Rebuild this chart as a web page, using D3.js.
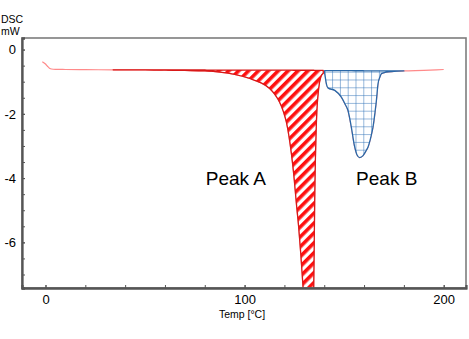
<!DOCTYPE html>
<html>
<head>
<meta charset="utf-8">
<script src="https://cdn.jsdelivr.net/npm/d3@7"></script>
<style>
  html, body { margin: 0; padding: 0; background: #fff; }
  svg { display: block; font-family: "Liberation Sans", Arial, sans-serif; }
</style>
</head>
<body>
<svg id="chart" width="469" height="339"></svg>
<script>
// ---- data ----
const curveTemp = [-1.6, 0, 1, 2, 3, 5, 10, 20, 34, 50, 60, 70, 80, 87.6, 95, 102.6, 108, 112.6, 115, 117.6, 119.5, 121, 122.3, 123.5, 124.8, 126, 127.2, 128.2, 129.4, 130.5, 132, 133.5, 134.7, 135.2, 136.1, 137.2, 138.3, 139.5, 140.2, 141.2, 142, 145.3, 148.6, 150.5, 151.9, 153.6, 155.3, 156.5, 157.8, 159.5, 161, 162, 163.5, 164.5, 165.5, 166.2, 167, 168, 168.7, 171.2, 175, 180, 190, 200];
const curveVal  = [-0.38, -0.45, -0.52, -0.58, -0.605, -0.615, -0.62, -0.625, -0.63, -0.635, -0.64, -0.65, -0.665, -0.70, -0.77, -0.90, -1.03, -1.21, -1.38, -1.64, -1.93, -2.26, -2.70, -3.23, -3.95, -4.78, -5.55, -6.34, -7.42, -8.3, -8.6, -8.3, -7.42, -4.70, -2.20, -1.21, -0.85, -0.74, -0.72, -1.10, -1.20, -1.27, -1.48, -1.70, -1.89, -2.41, -3.03, -3.28, -3.36, -3.30, -3.15, -3.03, -2.70, -2.41, -1.95, -1.58, -1.07, -0.85, -0.75, -0.70, -0.68, -0.665, -0.645, -0.62];
const peakLabels = ["Peak A", "Peak B"];
const peakRanges = [[34, 139.5], [140.2, 180]];
const peakLabelPos = [[80.5, -4.2], [156, -4.2]];
const baseA = [[34, -0.63], [139.5, -0.645]];
const baseB = [[140.2, -0.655], [180, -0.665]];
const xMajorTicks = [0, 100, 200];
const xMinorTicks = d3.range(0, 201, 20);
const yMajorTicks = [0, -2, -4, -6];
const yMinorTicks = d3.range(0, -7.01, -0.5);
const yTitle = ["DSC", "mW"];
const xTitle = "Temp [°C]";

// ---- layout ----
const svg = d3.select("#chart");
const L = 22, R = 466, T = 38, B = 288;
const x = d3.scaleLinear().domain([-11.8, 211.2]).range([L, R]);
const y = d3.scaleLinear().domain([-7.42, 0.36]).range([B, T]);

const pts = curveTemp.map((t, i) => ({ t, v: curveVal[i] }));

const defs = svg.append("defs");
defs.append("clipPath").attr("id", "plotclip")
  .append("rect").attr("x", L).attr("y", T).attr("width", R - L).attr("height", B - T);

// red diagonal stripes
const stripe = defs.append("pattern").attr("id", "stripes")
  .attr("patternUnits", "userSpaceOnUse").attr("width", 7).attr("height", 7)
  .attr("patternTransform", "rotate(45)");
stripe.append("rect").attr("width", 7).attr("height", 7).attr("fill", "#fff");
stripe.append("rect").attr("width", 3.6).attr("height", 7).attr("fill", "#ff1010");

// blue grid
const gs = 7.8;
const grid = defs.append("pattern").attr("id", "grid")
  .attr("patternUnits", "userSpaceOnUse").attr("width", gs).attr("height", gs)
  .attr("x", 324.3).attr("y", 71.7);
grid.append("rect").attr("width", gs).attr("height", gs).attr("fill", "#fff");
grid.append("path").attr("d", `M0,0H${gs}M0,0V${gs}`)
  .attr("stroke", "#2f72b8").attr("stroke-width", 1).attr("fill", "none");

const plot = svg.append("g").attr("clip-path", "url(#plotclip)");

// full curve (pink)
const line = d3.line().x(d => x(d.t)).y(d => y(d.v)).curve(d3.curveMonotoneX);
plot.append("path").datum(pts).attr("d", line)
  .attr("fill", "none").attr("stroke", "#ff8a8a").attr("stroke-width", 1.2);

function baseFn(b) {
  return d3.scaleLinear().domain([b[0][0], b[1][0]]).range([b[0][1], b[1][1]]);
}
const peaks = [
  { range: peakRanges[0], base: baseFn(baseA), fill: "url(#stripes)", stroke: "#d81818" },
  { range: peakRanges[1], base: baseFn(baseB), fill: "url(#grid)", stroke: "#2a68a8" }
];
peaks.forEach(p => {
  const sub = pts.filter(d => d.t >= p.range[0] && d.t <= p.range[1]);
  const area = d3.area().x(d => x(d.t)).y0(d => y(p.base(d.t))).y1(d => y(d.v)).curve(d3.curveMonotoneX);
  plot.append("path").datum(sub).attr("d", area)
    .attr("fill", p.fill).attr("stroke", p.stroke).attr("stroke-width", 1.3)
    .attr("stroke-linejoin", "round");
});

// frame
svg.append("rect").attr("x", L).attr("y", T).attr("width", R - L).attr("height", B - T)
  .attr("fill", "none").attr("stroke", "#7d7d7d").attr("stroke-width", 1.6);

// axes
function styleAxis(g) {
  g.select(".domain").attr("stroke", "#555").attr("stroke-width", 1.8);
  g.selectAll(".tick line").attr("stroke", "#555").attr("stroke-width", 1);
  g.selectAll(".tick text").attr("fill", "#000").attr("font-size", 13)
    .attr("font-family", "Liberation Sans, Arial, sans-serif");
}
svg.append("g").attr("transform", `translate(0,${B})`)
  .call(d3.axisBottom(x).tickValues(xMinorTicks).tickSize(-3).tickFormat(""))
  .call(styleAxis);
svg.append("g").attr("transform", `translate(0,${B})`)
  .call(d3.axisBottom(x).tickValues(xMajorTicks).tickSize(-3).tickPadding(6.5).tickFormat(d => String(d)))
  .call(styleAxis);
svg.append("g").attr("transform", `translate(${L},0)`)
  .call(d3.axisLeft(y).tickValues(yMinorTicks).tickSize(-3).tickFormat(""))
  .call(styleAxis);
svg.append("g").attr("transform", `translate(${L},0)`)
  .call(d3.axisLeft(y).tickValues(yMajorTicks).tickSize(-3).tickPadding(6).tickFormat(d => String(d)))
  .call(styleAxis);

// titles
svg.append("text").attr("x", 1).attr("y", 22.7).attr("font-size", 10.5).text(yTitle[0]);
svg.append("text").attr("x", 1).attr("y", 35).attr("font-size", 10.5).text(yTitle[1]);
svg.append("text").attr("x", 242).attr("y", 318).attr("text-anchor", "middle")
  .attr("font-size", 10.5).text(xTitle);

// peak labels
peakLabels.forEach((lab, i) => {
  svg.append("text").attr("x", x(peakLabelPos[i][0])).attr("y", y(peakLabelPos[i][1]))
    .attr("font-size", 19).attr("fill", "#000").text(lab);
});
</script>
</body>
</html>
